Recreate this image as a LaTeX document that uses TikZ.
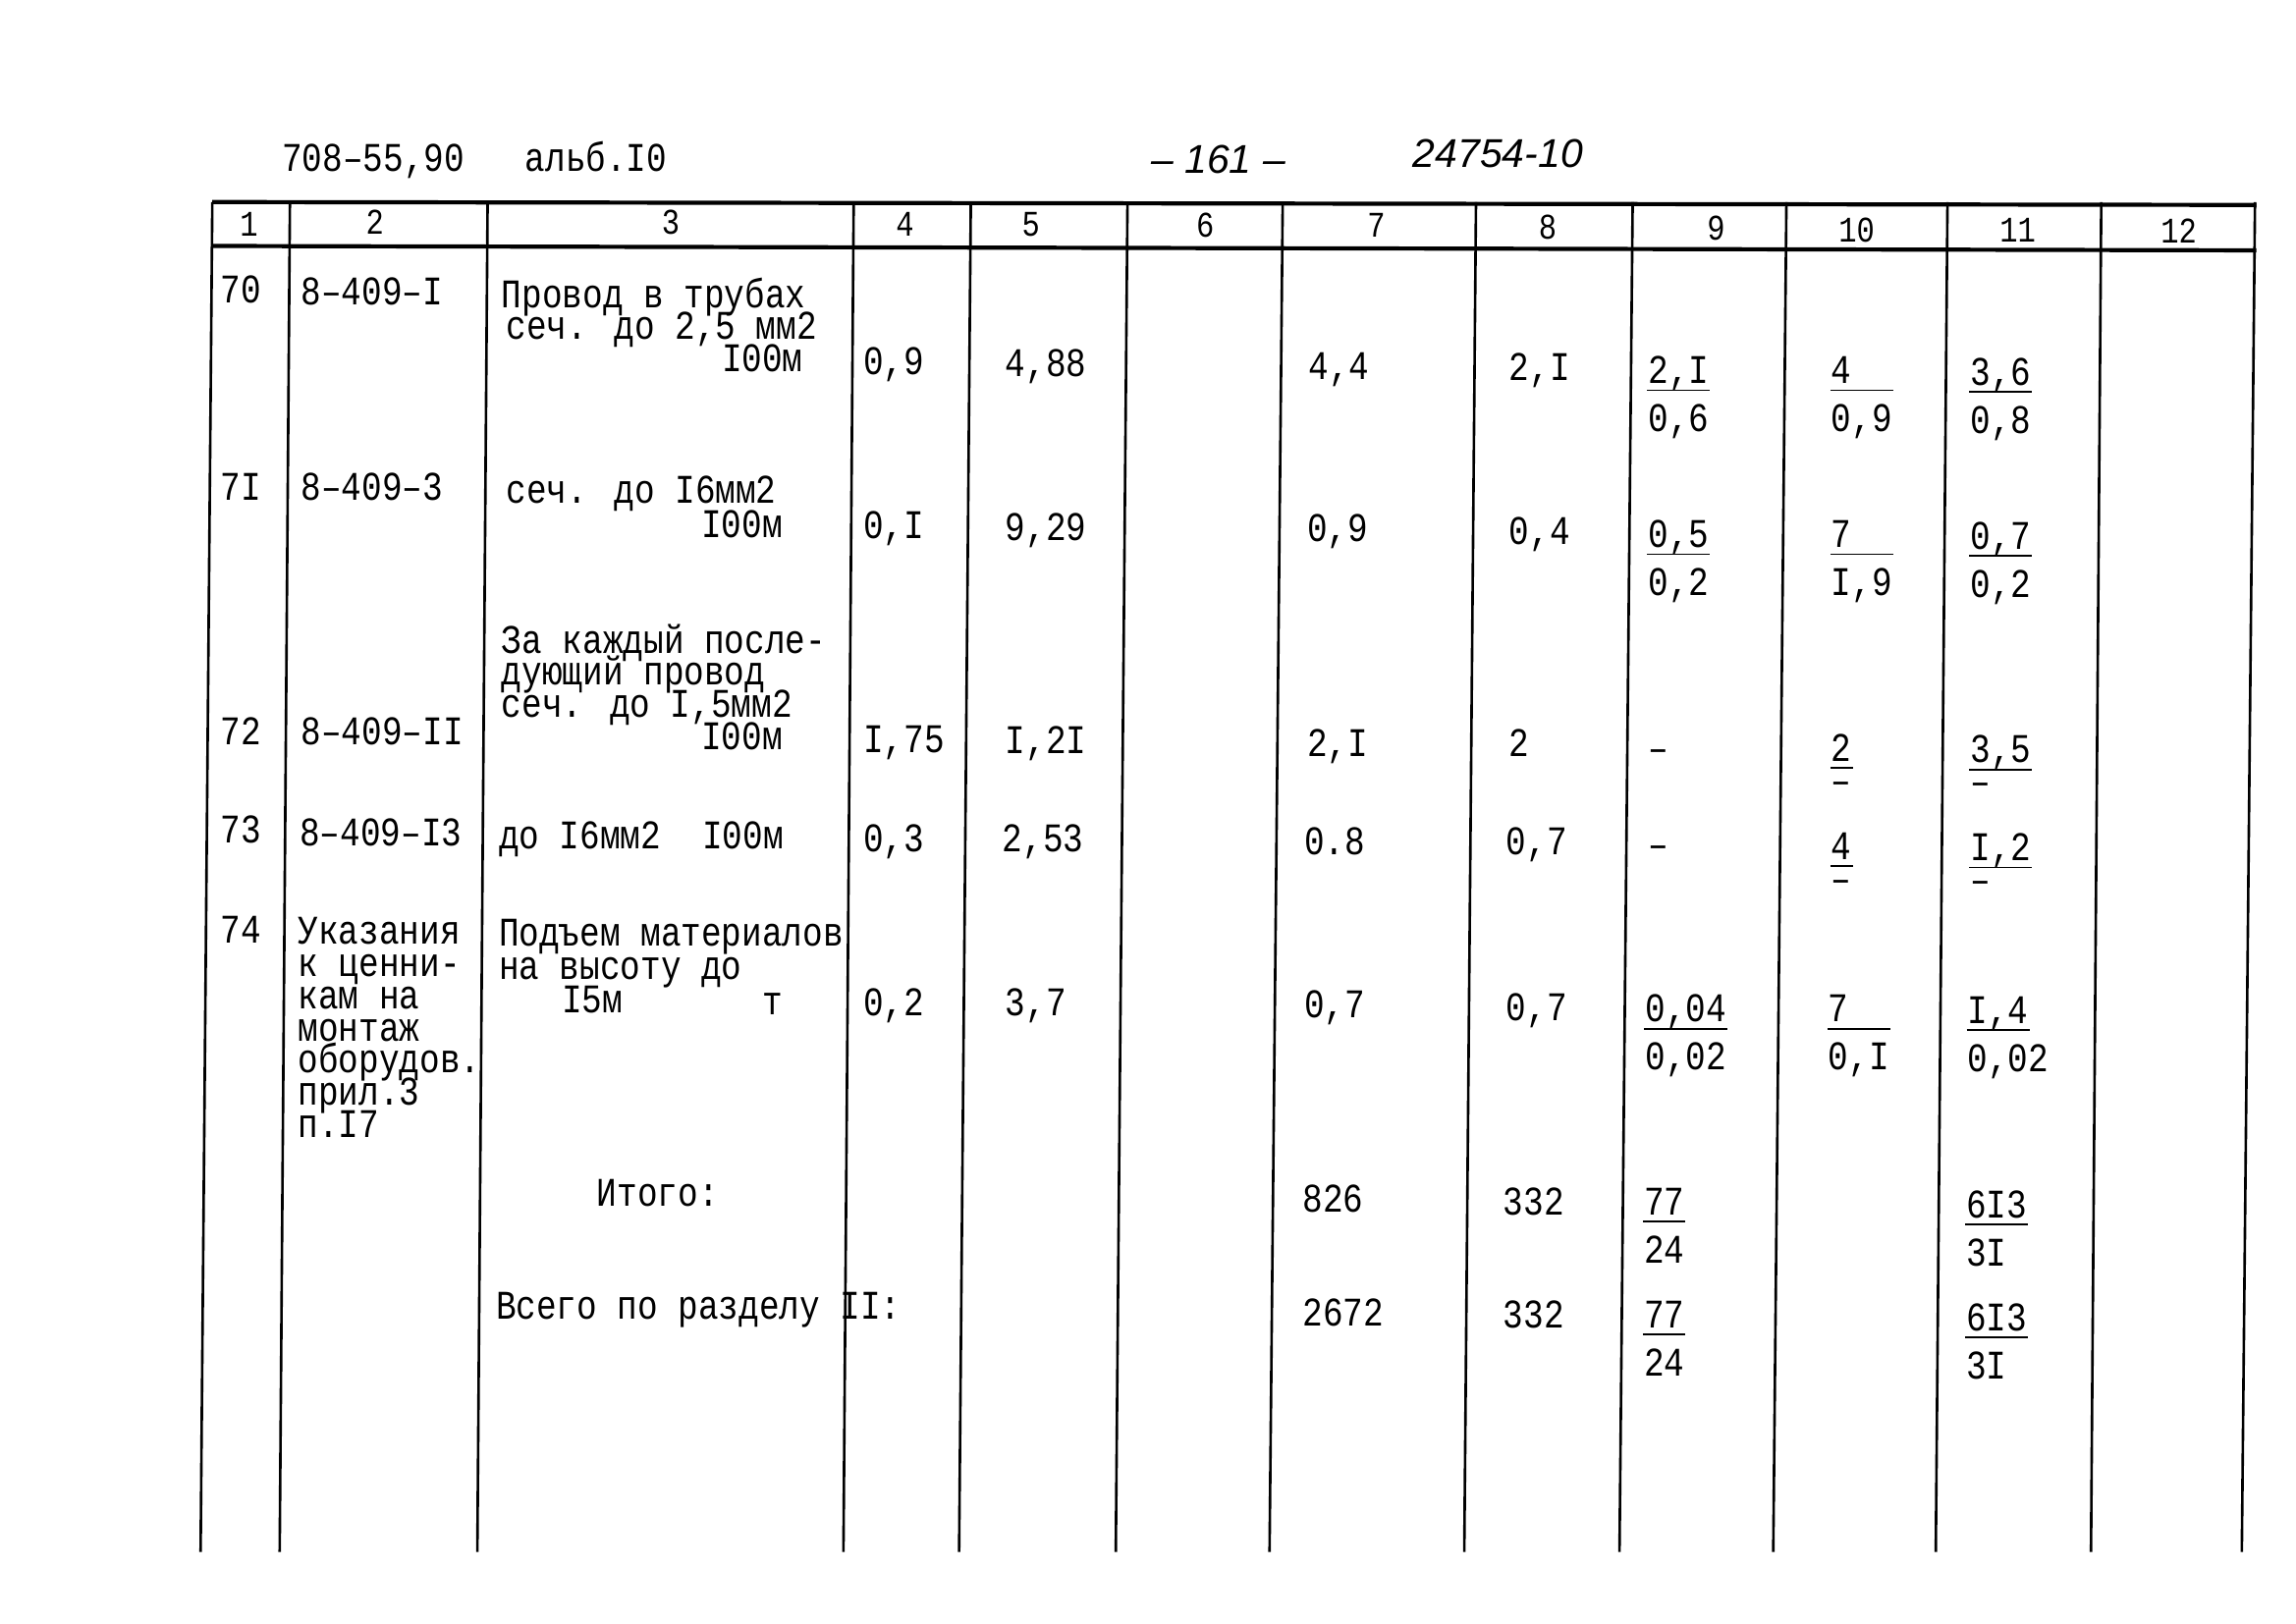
\documentclass[tikz,border=0pt]{standalone}
\usepackage{fontspec}
\newfontfamily\tw{Liberation Mono}[FakeStretch=0.83]
\newfontfamily\hand{Liberation Sans}
\usepackage{tikz}
\usetikzlibrary{positioning}

\tikzset{
  txt/.style={font=\tw\fontsize{7.9}{6.3}\selectfont, inner sep=0pt, anchor=base west},
  txtr/.style={txt, anchor=base east},
  hdr/.style={font=\tw\fontsize{7}{8}\selectfont, inner sep=0pt},
  handtxt/.style={font=\hand\itshape\fontsize{7.8}{9}\selectfont, inner sep=0pt},
  vline/.style={line width=0.5pt},
  hline/.style={line width=0.8pt},
  uline/.style={line width=0.35pt},
}

\newcommand\twofold[5]{
  \node[txt] (#5t) at (#1,#2) {#3};
  \draw[uline] ([yshift=-1.3pt]#5t.base west) -- ([yshift=-1.3pt]#5t.base east);
  \node[txt] (#5b) at (#1,#2+33) {#4};
}

\begin{document}
\begin{tikzpicture}[x=0.01cm, y=-0.01cm]
            \useasboundingbox (0,0) rectangle (1568,1109);

            \node[txt] (code) at (192,117) {708–55,90};
            \node[txt] (album) at (358,117) {альб.I0};
            \node[handtxt] (page) at (832,109) {– 161 –};
            \node[handtxt] (inv) at (1023,105) {24754-10};

            \draw[hline] (145,138) -- (1541,140);
            \draw[hline] (145,168) -- (1541,171);
            \foreach \a/\b in {145/137, 198/191, 333/326, 583/576, 663/655, 770/762, 876/867, 1008/1000, 1115/1106, 1220/1211, 1330/1322, 1435/1428, 1540/1531}
                \draw[vline] (\a,138) -- (\b,1060);

            \foreach \x/\y/\t in {170/153/1, 256/152/2, 458/152/3, 618/153/4, 704/153/5, 823/154/6, 940/154/7, 1057/155/8, 1172/156/9, 1268/157/10, 1378/157/11, 1488/158/12}
                \node[hdr] (h\t) at (\x,\y) {\t};

            % 70
            \node[txt] (r70a) at (150,207) {70};
            \node[txt] (r70b) at (205,208) {8–409–I};
            \node[txt] (r70c) at (342,210) {Провод в трубах};
            \node[txt] (r70d) at (345,232) {сеч. до 2,5 мм2};
            \node[txtr] (r70e) at (549,254) {I00м};
            \node[txt] (r70f) at (589,256) {0,9};
            \node[txt] (r70g) at (686,257) {4,88};
            \node[txt] (r70h) at (893,259) {4,4};
            \node[txt] (r70i) at (1030,260) {2,I};
            \twofold{1125}{262}{2,I}{0,6}{r70j}
            \twofold{1250}{262}{4\hphantom{,0}}{0,9}{r70k}
            \twofold{1345}{263}{3,6}{0,8}{r70l}

            % 71
            \node[txt] (r71a) at (150,342) {7I};
            \node[txt] (r71b) at (205,342) {8–409–3};
            \node[txt] (r71c) at (345,344) {сеч. до I6мм2};
            \node[txtr] (r71e) at (535,367) {I00м};
            \node[txt] (r71f) at (589,368) {0,I};
            \node[txt] (r71g) at (686,369) {9,29};
            \node[txt] (r71h) at (892,370) {0,9};
            \node[txt] (r71i) at (1030,372) {0,4};
            \twofold{1125}{374}{0,5}{0,2}{r71j}
            \twofold{1250}{374}{7\hphantom{,0}}{I,9}{r71k}
            \twofold{1345}{375}{0,7}{0,2}{r71l}

            % 72
            \node[txt] (r72a) at (150,509) {72};
            \node[txt] (r72b) at (205,509) {8–409–II};
            \foreach \t [count=\i from 0] in {За каждый после-, дующий провод, сеч. до I{,}5мм2}
                \node[txt] (r72c\i) at (342,446+22*\i) {\t};
            \node[txtr] (r72e) at (535,512) {I00м};
            \node[txt] (r72f) at (589,514) {I,75};
            \node[txt] (r72g) at (686,515) {I,2I};
            \node[txt] (r72h) at (892,517) {2,I};
            \node[txt] (r72i) at (1030,517) {2};
            \node[txt] (r72j) at (1125,520) {–};
            \twofold{1250}{520}{2}{}{r72k}
            \node[txt] (r72kd) at (1250,542) {–};
            \twofold{1345}{521}{3,5}{}{r72l}
            \node[txt] (r72ld) at (1345,543) {–};

            % 73
            \node[txt] (r73a) at (150,576) {73};
            \node[txt] (r73b) at (204,578) {8–409–I3};
            \node[txt] (r73c) at (340,580) {до I6мм2};
            \node[txt] (r73e) at (479,580) {I00м};
            \node[txt] (r73f) at (589,582) {0,3};
            \node[txt] (r73g) at (684,582) {2,53};
            \node[txt] (r73h) at (890,584) {0.8};
            \node[txt] (r73i) at (1028,584) {0,7};
            \node[txt] (r73j) at (1125,586) {–};
            \twofold{1250}{587}{4}{}{r73k}
            \node[txt] (r73kd) at (1250,609) {–};
            \twofold{1345}{588}{I,2}{}{r73l}
            \node[txt] (r73ld) at (1345,610) {–};

            % 74
            \node[txt] (r74a) at (150,644) {74};
            \foreach \t [count=\i from 0] in {Указания, к ценни-, кам на, монтаж, оборудов., прил.3, п.I7}
                \node[txt] (r74b\i) at (203,645+22*\i) {\t};
            \node[txt] (r74c) at (340,646) {Подъем материалов};
            \node[txt] (r74d) at (340,669) {на высоту до};
            \node[txt] (r74e) at (383,692) {I5м};
            \node[txt] (r74u) at (520,693) {т};
            \node[txt] (r74f) at (589,694) {0,2};
            \node[txt] (r74g) at (686,694) {3,7};
            \node[txt] (r74h) at (890,695) {0,7};
            \node[txt] (r74i) at (1028,697) {0,7};
            \twofold{1123}{698}{0,04}{0,02}{r74j}
            \twofold{1248}{698}{7\hphantom{,0}}{0,I}{r74k}
            \twofold{1343}{699}{I,4}{0,02}{r74l}

            % totals
            \node[txt] (sum) at (407,824) {Итого:};
            \node[txt] (sumh) at (889,828) {826};
            \node[txt] (sumi) at (1026,830) {332};
            \twofold{1122}{830}{77}{24}{sumj}
            \twofold{1342}{832}{6I3}{3I}{suml}

            \node[txt] (all) at (338,901) {Всего по разделу II:};
            \node[txt] (allh) at (889,906) {2672};
            \node[txt] (alli) at (1026,907) {332};
            \twofold{1122}{907}{77}{24}{allj}
            \twofold{1342}{909}{6I3}{3I}{alll}
        \end{tikzpicture}
\end{document}
